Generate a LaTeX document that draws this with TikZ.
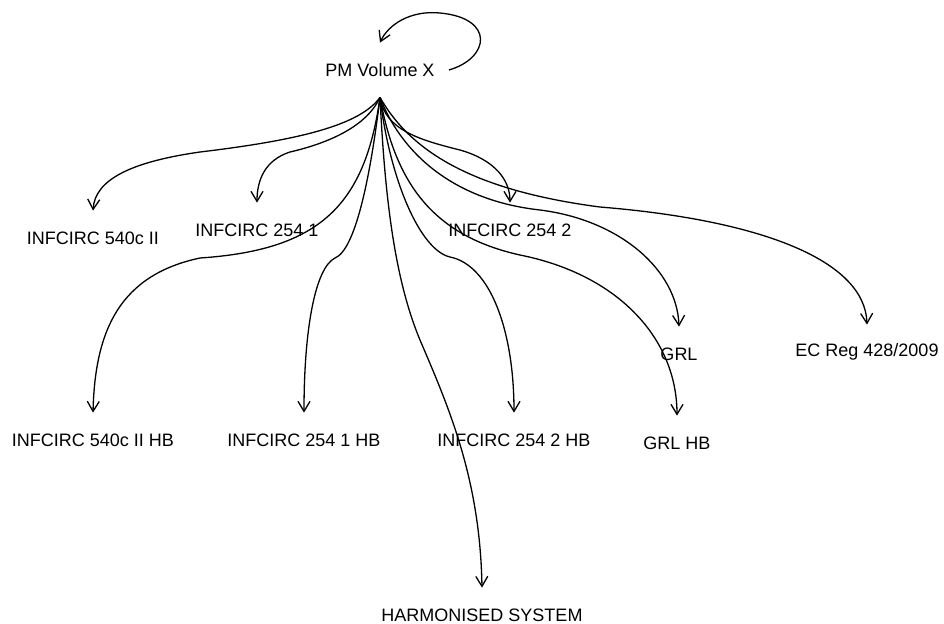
\documentclass[tikz,border=0pt]{standalone}
\usepackage{fontspec}
\setmainfont{Liberation Sans}
\usetikzlibrary{arrows.meta}

\begin{document}
\begin{tikzpicture}[x=0.5pt, y=-0.5pt,
        lbl/.style={inner sep=0pt, inner xsep=7pt, minimum height=27pt, font=\fontsize{9}{10}\selectfont},
        edge/.style={line width=0.65pt, -{Straight Barb[length=5pt, width=6pt]}}]
        \useasboundingbox (0,0) rectangle (944,623);

        % Nút gốc
        \node[lbl] (pmx) at (380,70) {PM Volume X};

        % Hàng 1
        \node[lbl] (inf540) at (93,238) {INFCIRC 540c II};
        \node[lbl] (inf2541) at (257,230) {INFCIRC 254 1};
        \node[lbl] (inf2542) at (510,230) {INFCIRC 254 2};
        \node[lbl] (grl) at (679,354) {GRL};
        \node[lbl] (ecreg) at (867,352) {EC Reg 428/2009};

        % Hàng 2 (HB)
        \node[lbl] (inf540hb) at (93,440) {INFCIRC 540c II HB};
        \node[lbl] (inf2541hb) at (304,440) {INFCIRC 254 1 HB};
        \node[lbl] (inf2542hb) at (514,440) {INFCIRC 254 2 HB};
        \node[lbl] (grlhb) at (677,443) {GRL HB};
        \node[lbl] (hs) at (482,615) {HARMONISED SYSTEM};

        % Vòng lặp trên nút gốc
        \draw[edge] (pmx.east) .. controls (490,58) and (495,18) .. (440,13)
            .. controls (410,10) and (388,25) .. (pmx.north);

        % Các cạnh từ nút gốc
        \draw[edge] (pmx.south) .. controls (360,125) and (300,140) .. (200,152)
            .. controls (130,162) and (95,180) .. (inf540.north);
        \draw[edge] (pmx.south) .. controls (365,130) and (320,145) .. (290,152)
            .. controls (265,160) and (257,180) .. (inf2541.north);
        \draw[edge] (pmx.south) .. controls (385,130) and (420,140) .. (460,150)
            .. controls (495,160) and (510,180) .. (inf2542.north);
        \draw[edge] (pmx.south) .. controls (400,150) and (450,200) .. (540,210)
            .. controls (620,220) and (677,270) .. (grl.north);
        \draw[edge] (pmx.south) .. controls (410,150) and (470,190) .. (600,207)
            .. controls (760,220) and (865,260) .. (ecreg.north);
        \draw[edge] (pmx.south) .. controls (365,205) and (320,250) .. (200,258)
            .. controls (120,275) and (95,330) .. (inf540hb.north);
        \draw[edge] (pmx.south) .. controls (370,180) and (355,250) .. (335,258)
            .. controls (315,268) and (304,330) .. (inf2541hb.north);
        \draw[edge] (pmx.south) .. controls (390,180) and (420,250) .. (450,257)
            .. controls (490,265) and (514,330) .. (inf2542hb.north);
        \draw[edge] (pmx.south) .. controls (395,180) and (430,235) .. (520,255)
            .. controls (620,275) and (677,340) .. (grlhb.north);
        \draw[edge] (pmx.south) .. controls (385,200) and (395,280) .. (420,340)
            .. controls (450,410) and (480,480) .. (hs.north);

    \end{tikzpicture}
\end{document}
